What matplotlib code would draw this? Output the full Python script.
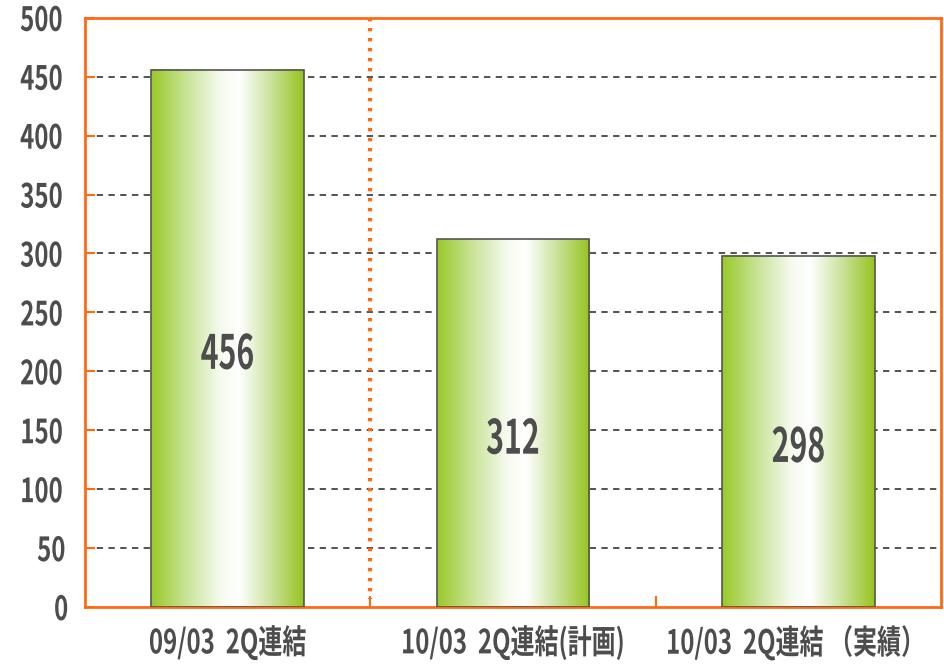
import numpy as np
import matplotlib.pyplot as plt
from matplotlib.colors import LinearSegmentedColormap
from matplotlib import patheffects
from matplotlib.transforms import Affine2D

plt.rcParams['font.family'] = ['Noto Sans CJK JP', 'DejaVu Sans']

# Data
categories = ['09/03  2Q連結', '10/03  2Q連結(計画)', '10/03  2Q連結 （実績）']
values = [456, 312, 298]
yticks = [0, 50, 100, 150, 200, 250, 300, 350, 400, 450, 500]

orange = '#FF6A10'
text_c = '#4d4d4d'


class Condense(patheffects.AbstractPathEffect):
    # squeeze glyphs horizontally around their centre (narrow font look)
    def __init__(self, sx):
        super().__init__()
        self.sx = sx

    def draw_path(self, renderer, gc, tpath, affine, rgbFace=None):
        ext = tpath.get_extents()
        cx = (ext.x0 + ext.x1) / 2
        t = Affine2D().translate(-cx, 0).scale(self.sx, 1).translate(cx, 0) + affine
        renderer.draw_path(gc, tpath, t, rgbFace)


narrow = [Condense(0.72)]
narrower = [Condense(0.64)]

fig = plt.figure(figsize=(9.44, 6.65), dpi=100)
ax = fig.add_axes([0.090, 0.0872, 0.907, 0.886])

x = np.arange(len(categories))
bars = ax.bar(x, values, width=0.535, facecolor='none', edgecolor='#555555',
              linewidth=1.2, zorder=3)

# horizontal green-white-green gradient inside each bar
cmap = LinearSegmentedColormap.from_list('g', [
    (0.0, (0.60, 0.79, 0.16)),
    (0.25, (0.80, 0.90, 0.62)),
    (0.45, (0.96, 0.98, 0.93)),
    (0.58, (1.0, 1.0, 1.0)),
    (0.78, (0.80, 0.89, 0.62)),
    (1.0, (0.59, 0.77, 0.12)),
])
grad = np.linspace(0, 1, 256).reshape(1, -1)
for b in bars:
    x0, w, h = b.get_x(), b.get_width(), b.get_height()
    ax.imshow(grad, cmap=cmap, aspect='auto', extent=(x0, x0 + w, 0, h),
              zorder=2, interpolation='bicubic')
    ax.text(x0 + w / 2, h / 2 - 14, f'{h:.0f}', ha='center', va='center',
            fontsize=34, fontweight='bold', color=text_c, zorder=4,
            path_effects=narrower)

ax.set_xlim(-0.5, len(categories) - 0.5)
ax.set_ylim(0, 500)

# grid
for yv in yticks[1:]:
    ax.axhline(yv, color='#444444', linestyle=(0, (3.5, 3)), linewidth=1.3, zorder=1)

# dotted separator
ax.plot([0.5, 0.5], [500, 7], color=orange, linestyle=(0, (0.8, 1.6)),
        linewidth=3, zorder=1, solid_capstyle='butt')

for s in ax.spines.values():
    s.set_color(orange)
    s.set_linewidth(2)

ax.set_yticks(yticks)
ax.set_yticklabels([str(v) for v in yticks], fontsize=24, fontweight='bold', color=text_c)
for lab in ax.get_yticklabels():
    lab.set_path_effects(narrow)
ax.tick_params(axis='y', direction='in', length=7, width=1.5, color=orange, pad=10)

ax.set_xticks(x)
ax.set_xticklabels(categories, fontsize=24, fontweight='bold', color=text_c)
for lab in ax.get_xticklabels():
    lab.set_path_effects(narrow)
ax.set_xticks([0.5, 1.5], minor=True)
ax.tick_params(axis='x', which='major', length=0, pad=13)
ax.tick_params(axis='x', which='minor', direction='in', length=8, width=1.5, color=orange)

fig.savefig('out.png', dpi=100)
